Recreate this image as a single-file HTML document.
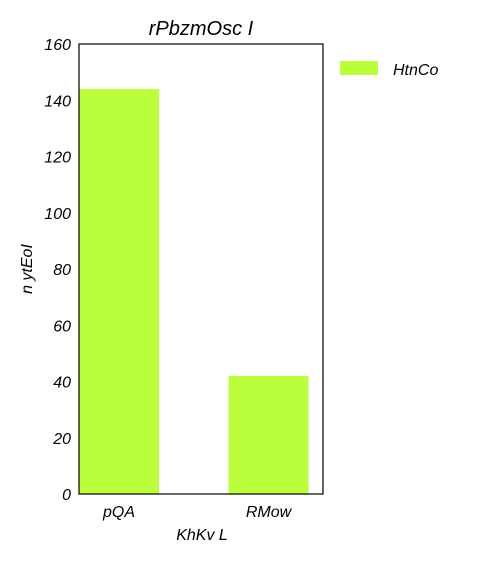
<!DOCTYPE html>
<html><head><meta charset="utf-8"><style>
html,body{margin:0;padding:0;background:#fff;}
svg text{font-family:"Liberation Sans",sans-serif;font-style:italic;fill:#000;}
</style></head><body>
<svg id="chart" width="480" height="560" viewBox="0 0 480 560">
<text x="201" y="35" font-size="20" text-anchor="middle">rPbzmOsc I</text>
<g id="bars"></g>
<g id="yticks"></g>
<g id="xticks"></g>
<rect x="79" y="44" width="244" height="450" fill="none" stroke="#000" stroke-width="1.2"/>
<text x="202" y="540" font-size="16" text-anchor="middle">KhKv L</text>
<text transform="translate(32,269) rotate(-90)" font-size="16" text-anchor="middle">n  ytEoI</text>
<g>
<rect x="340" y="61" width="38" height="14" fill="#bbff3c"/>
<text x="393" y="75" font-size="16">HtnCo</text>
</g>
</svg>
<script>
const categories = ["pQA", "RMow"];
const values = [144, 42];
const yTicks = [0, 20, 40, 60, 80, 100, 120, 140, 160];
const yMin = 0, yMax = 160;
const plot = {x0: 79, x1: 323, y0: 44, y1: 494};
const ns = "http://www.w3.org/2000/svg";
function yScale(v){ return plot.y1 - (v - yMin) / (yMax - yMin) * (plot.y1 - plot.y0); }
const unit = 149.5, xOrigin = 119, barW = 80;
function xCenter(i){ return xOrigin + i * unit; }
const barsG = document.getElementById("bars");
values.forEach((v, i) => {
  const r = document.createElementNS(ns, "rect");
  const cx = xCenter(i);
  r.setAttribute("x", cx - barW / 2);
  r.setAttribute("y", yScale(v));
  r.setAttribute("width", barW);
  r.setAttribute("height", yScale(0) - yScale(v));
  r.setAttribute("fill", "#bbff3c");
  
  
  barsG.appendChild(r);
  const t = document.createElementNS(ns, "text");
  t.setAttribute("x", cx);
  t.setAttribute("y", 517);
  t.setAttribute("font-size", "16");
  t.setAttribute("text-anchor", "middle");
  t.textContent = categories[i];
  
  
  document.getElementById("xticks").appendChild(t);
});
yTicks.forEach(v => {
  const t = document.createElementNS(ns, "text");
  t.setAttribute("x", 71);
  t.setAttribute("y", yScale(v) + 6);
  t.setAttribute("font-size", "16");
  t.setAttribute("text-anchor", "end");
  t.textContent = v;
  
  
  document.getElementById("yticks").appendChild(t);
});
</script>
</body></html>
